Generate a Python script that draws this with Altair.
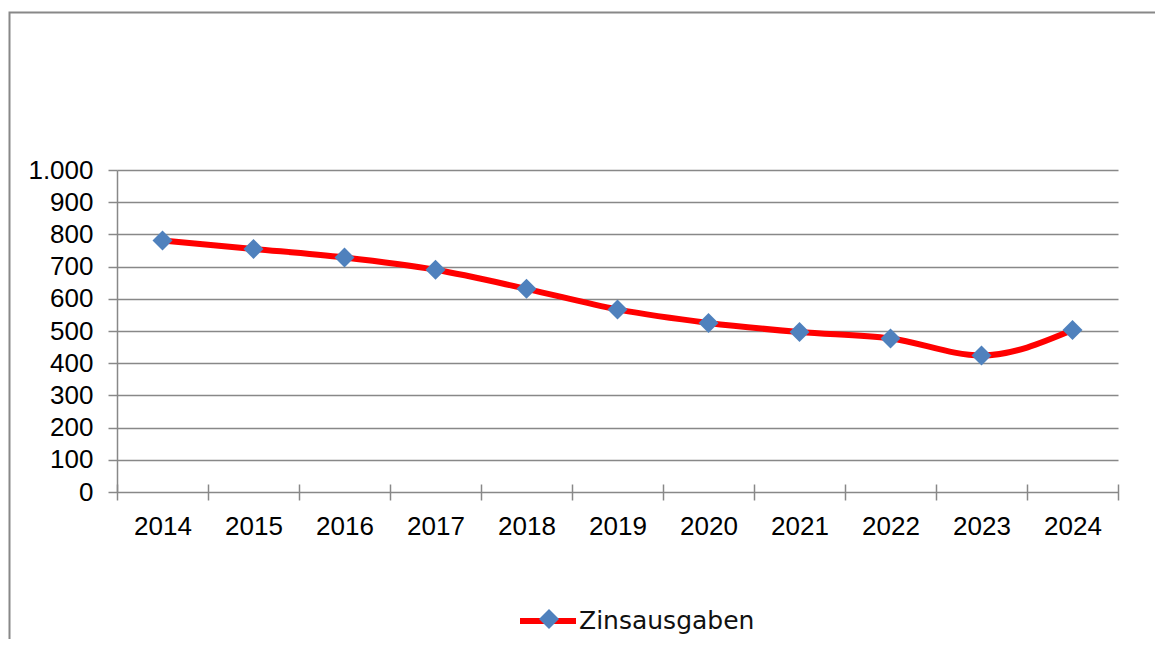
import altair as alt
import pandas as pd

years = ["2014", "2015", "2016", "2017", "2018", "2019", "2020", "2021", "2022", "2023", "2024"]
values = [781, 755, 728, 690, 631, 567, 525, 497, 477, 424, 503]
series_name = "Zinsausgaben"
marker_key = "marker"
y_ticks = [0, 100, 200, 300, 400, 500, 600, 700, 800, 900, 1000]

df = pd.DataFrame({
    "Jahr": years,
    "Wert": values,
    "series": [series_name] * len(years),
    "marker": [marker_key] * len(years),
})

GRAY = "#888888"
AXIS_FONT = "Liberation Sans"

x_enc = alt.X(
    "Jahr:O",
    sort=years,
    scale=alt.Scale(type="band", paddingInner=0, paddingOuter=0),
    axis=alt.Axis(
        title=None, labelAngle=0, tickBand="extent", offset=-8, tickSize=16,
        domain=False, grid=False, labelPadding=13, labelFontSize=26,
        labelFont=AXIS_FONT, labelColor="#000000", tickColor=GRAY, tickWidth=1.5,
    ),
)
y_enc = alt.Y(
    "Wert:Q",
    scale=alt.Scale(domain=[0, 1000], nice=False),
    axis=alt.Axis(
        title=None, values=y_ticks, format=",d",
        labelExpr="replace(datum.label, ',', '.')",
        tickSize=9, labelPadding=15, labelFontSize=26, labelFont=AXIS_FONT,
        labelColor="#000000", tickColor=GRAY, tickWidth=1.5,
        domainColor=GRAY, domainWidth=1.5, gridColor=GRAY, gridWidth=1.5,
    ),
)

base = alt.Chart(df)

line = base.mark_line(strokeWidth=6, interpolate="monotone", strokeCap="round").encode(
    x=x_enc,
    y=y_enc,
    stroke=alt.Stroke(
        "series:N",
        scale=alt.Scale(domain=[series_name], range=["#FF0000"]),
        legend=alt.Legend(
            title=None, orient="none", legendX=400, legendY=420, padding=0,
            symbolType="stroke", symbolSize=3136, symbolStrokeWidth=6,
            labelFontSize=25, labelFont="DejaVu Sans", labelColor="#111111",
            labelOffset=0, labelLimit=400,
        ),
    ),
)

points = base.mark_point(shape="diamond", filled=True, size=400, opacity=1, strokeWidth=0).encode(
    x=x_enc,
    y=y_enc,
    fill=alt.Fill(
        "marker:N",
        scale=alt.Scale(domain=[marker_key], range=["#4F81BD"]),
        legend=alt.Legend(
            title=None, orient="none", legendX=422, legendY=439, padding=0,
            symbolType="diamond", symbolSize=400, symbolStrokeWidth=0,
            labelExpr="''", labelFontSize=1, labelOffset=0,
        ),
    ),
)

border = alt.Chart(pd.DataFrame({"a": [0]})).mark_rect(
    fillOpacity=0, stroke=GRAY, strokeWidth=2
).encode(
    x=alt.value(-107.5), x2=alt.value(1100), y=alt.value(-157.5), y2=alt.value(700)
)

chart = alt.layer(border, line, points).resolve_legend(
    stroke="independent", fill="independent"
).properties(
    width=1001, height=322, autosize="none",
    padding={"left": 109, "top": 162, "right": 37, "bottom": 147},
    background="white",
).configure_view(stroke=None)

chart.save("out.html", embed_options={"renderer": "svg", "actions": False})
